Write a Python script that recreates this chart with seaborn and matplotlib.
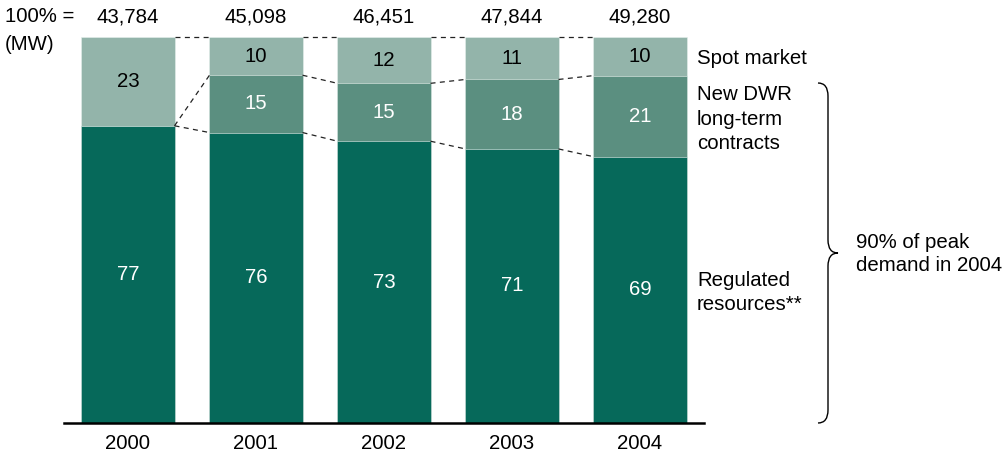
import numpy as np
import pandas as pd
import matplotlib
matplotlib.use("Agg")
import matplotlib.pyplot as plt
from matplotlib.path import Path
from matplotlib.patches import PathPatch
import seaborn as sns

# Capacity mix by year (percent of total, as labelled)
years = ["2000", "2001", "2002", "2003", "2004"]
totals_mw = ["43,784", "45,098", "46,451", "47,844", "49,280"]
regulated = [77, 76, 73, 71, 69]
dwr_contracts = [0, 15, 15, 18, 21]
spot_market = [23, 10, 12, 11, 10]

sns.set_theme(style="white")
plt.rcParams["font.family"] = ["Liberation Sans", "DejaVu Sans"]
plt.rcParams["text.color"] = "black"

W, H = 1005, 457
fig = plt.figure(figsize=(W / 100, H / 100), dpi=100)
ax = fig.add_axes([64 / W, 34 / H, 640 / W, 386 / H])

df = pd.DataFrame({"year": years, "reg": regulated, "dwr": dwr_contracts, "spot": spot_market})
row_sum = df[["reg", "dwr", "spot"]].sum(axis=1)
df["reg_pct"] = df["reg"] / row_sum * 100
df["dwr_pct"] = df["dwr"] / row_sum * 100
df["spot_pct"] = df["spot"] / row_sum * 100
df["cum_reg"] = df["reg_pct"]
df["cum_dwr"] = df["reg_pct"] + df["dwr_pct"]
df["cum_spot"] = df["cum_dwr"] + df["spot_pct"]

c_light = "#93b4aa"
c_mid = "#5b8f80"
c_dark = "#06695a"
bar_w = 0.727

# Stacked bars drawn back to front from cumulative shares
for col, colr in [("cum_spot", c_light), ("cum_dwr", c_mid), ("cum_reg", c_dark)]:
    sns.barplot(data=df, x="year", y=col, order=years, color=colr, saturation=1,
                width=bar_w, edgecolor="#e6efec", linewidth=0.4, ax=ax)

ax.set_xlim(-0.5, 4.5)
ax.set_ylim(0, 100)
ax.set_xlabel("")
ax.set_ylabel("")
ax.set_yticks([])
for s in ["top", "left", "right"]:
    ax.spines[s].set_visible(False)
ax.spines["bottom"].set_color("black")
ax.spines["bottom"].set_linewidth(1.8)
ax.tick_params(axis="x", length=0, pad=8, labelsize=14.7, labelcolor="black")

fs = 14.7
# Segment value labels
for i in range(len(years)):
    r, d, s = df.loc[i, "cum_reg"], df.loc[i, "cum_dwr"], df.loc[i, "cum_spot"]
    ax.text(i, r / 2, str(regulated[i]), ha="center", va="center", color="white", fontsize=fs)
    if dwr_contracts[i] > 0:
        ax.text(i, (r + d) / 2, str(dwr_contracts[i]), ha="center", va="center", color="white", fontsize=fs)
    ax.text(i, (d + s) / 2, str(spot_market[i]), ha="center", va="center", color="black", fontsize=fs)
    ax.text(i, 105.2, totals_mw[i], ha="center", va="center", color="black", fontsize=fs, clip_on=False)

# Dashed connectors between adjacent bars
for i in range(len(years) - 1):
    x0, x1 = i + bar_w / 2, i + 1 - bar_w / 2
    for col in ["cum_spot", "cum_dwr", "cum_reg"]:
        ax.plot([x0, x1], [df.loc[i, col], df.loc[i + 1, col]], color="#222222",
                lw=0.9, linestyle=(0, (4, 3.5)), clip_on=False)

def fxy(px, py):
    return (px / W, 1 - py / H)

fig.text(*fxy(5, 17), "100% =", ha="left", va="center", fontsize=fs)
fig.text(*fxy(5, 45), "(MW)", ha="left", va="center", fontsize=fs)

fig.text(*fxy(697, 59), "Spot market", ha="left", va="center", fontsize=fs)
fig.text(*fxy(697, 119), "New DWR\nlong-term\ncontracts", ha="left", va="center",
         fontsize=fs, linespacing=1.36)
fig.text(*fxy(697, 292.5), "Regulated\nresources**", ha="left", va="center",
         fontsize=fs, linespacing=1.4)
fig.text(*fxy(856, 254), "90% of peak\ndemand in 2004", ha="left", va="center",
         fontsize=fs, linespacing=1.22)

# Curly brace spanning the contracted and regulated share
pts = [(818, 83), (828, 83), (828, 96), (828, 240), (828, 253), (838, 253),
       (828, 253), (828, 266), (828, 410), (828, 423), (818, 423)]
codes = [Path.MOVETO, Path.CURVE3, Path.CURVE3, Path.LINETO, Path.CURVE3, Path.CURVE3,
         Path.CURVE3, Path.CURVE3, Path.LINETO, Path.CURVE3, Path.CURVE3]
brace = Path([fxy(x, y) for x, y in pts], codes)
fig.add_artist(PathPatch(brace, transform=fig.transFigure, facecolor="none",
                         edgecolor="black", lw=1.0))

fig.savefig("out.png", dpi=100)
